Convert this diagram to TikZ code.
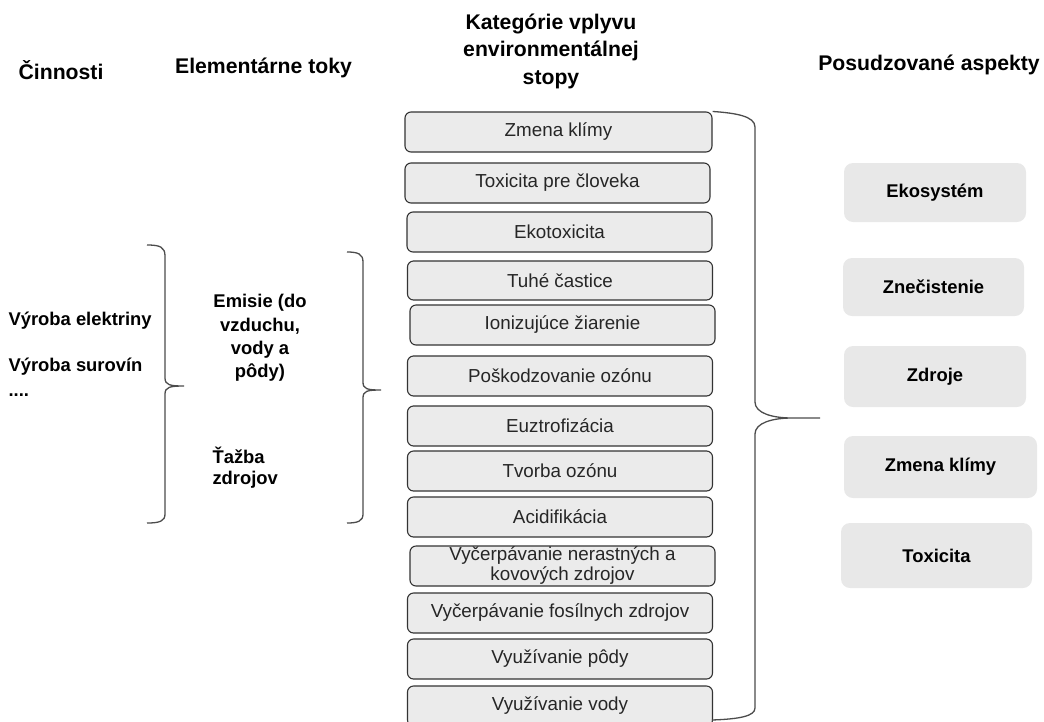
\documentclass[tikz,border=0pt]{standalone}
\usepackage{fontspec}
\setmainfont{Liberation Sans}

\begin{document}
\begin{tikzpicture}[x=1pt,y=-1pt,
    kat/.style={draw=black!80,line width=1.1pt,fill=black!8,rounded corners=6pt,
      minimum width=305pt,minimum height=40pt,inner sep=0pt,text=black!85,
      font=\fontsize{18.8}{21}\selectfont},
    asp/.style={fill=black!9,rounded corners=9pt,inner sep=0pt,
      font=\bfseries\fontsize{18.4}{22}\selectfont},
    hlava/.style={align=center,font=\bfseries\fontsize{21.2}{27.5}\selectfont},
    stitok/.style={font=\bfseries\fontsize{18.4}{23}\selectfont},
    zatvorka/.style={draw=black!70,line width=1.3pt}]
    \useasboundingbox (0,0) rectangle (1044,721);
    % headings
    \node[hlava] (h1) at (61,70) {Činnosti};
    \node[hlava] (h2) at (263.5,68) {Elementárne toky};
    \node[hlava] (h3) at (551,51) {Kategórie vplyvu\\environmentálnej\\stopy};
    \node[hlava] (h4) at (929,65) {Posudzované aspekty};
    % left column
    \node[stitok,anchor=west] (c1) at (5,321) {Výroba elektriny};
    \node[stitok,anchor=west] (c2) at (5,367) {Výroba surovín};
    \node[stitok,anchor=base west] (c3) at (5,396) {....};
    \draw[zatvorka] (147,245) .. controls (160,245) and (165,247) .. (165,256) -- (165,378)
        .. controls (165,385) and (170,386) .. (184,386)
        .. controls (170,386) and (165,387) .. (165,394) -- (165,514)
        .. controls (165,521) and (160,523) .. (147,523);
    % elementary flows
    \node[stitok,align=center,font=\bfseries\fontsize{18.4}{23.3}\selectfont] (t1) at (260,338) {Emisie (do\\vzduchu,\\vody a\\pôdy)};
    \node[stitok,align=left,anchor=west,font=\bfseries\fontsize{18.4}{21.5}\selectfont] (t2) at (209,467.5) {Ťažba\\zdrojov};
    \draw[zatvorka] (347,252) .. controls (358,252) and (363,254) .. (363,262) -- (363,382)
        .. controls (363,389) and (367,390) .. (381,390)
        .. controls (367,390) and (363,391) .. (363,398) -- (363,514)
        .. controls (363,521) and (358,523) .. (347,523);
    % impact categories
    \node[kat,minimum width=307pt] (k1) at (558.5,132) {Zmena klímy};
    \node[kat] (k2) at (557.5,183) {Toxicita pre človeka};
    \node[kat] (k3) at (559.5,232) {Ekotoxicita};
    \node[kat,minimum height=39pt] (k4) at (560,280.5) {Tuhé častice};
    \node[kat] (k5) at (562.5,325) {Ionizujúce žiarenie};
    \node[kat] (k6) at (560,376) {Poškodzovanie ozónu};
    \node[kat] (k7) at (560,426) {Euztrofizácia};
    \node[kat] (k8) at (560,471) {Tvorba ozónu};
    \node[kat] (k9) at (560,517) {Acidifikácia};
    \node[kat,align=center] (k10) at (562.5,566) {Vyčerpávanie nerastných a\\[-1pt]kovových zdrojov};
    \node[kat] (k11) at (560,613) {Vyčerpávanie fosílnych zdrojov};
    \node[kat] (k12) at (560,659) {Využívanie pôdy};
    \node[kat] (k13) at (560,706) {Využívanie vody};
    \draw[zatvorka] (k1.north east) .. controls (735,113) and (755,116) .. (755,127) -- (755,402)
        .. controls (755,413) and (772,418) .. (792,418) -- (820,418)
        (792,418) .. controls (772,418) and (755,423) .. (755,434) -- (755,708)
        .. controls (755,716) and (740,719) .. (712,720);
    % aspects
    \node[asp,minimum width=182pt,minimum height=59pt] (a1) at (935,192.5) {Ekosystém};
    \node[asp,minimum width=181pt,minimum height=58pt] (a2) at (933.5,287) {Znečistenie};
    \node[asp,minimum width=182pt,minimum height=61pt] (a3) at (935,376.5) {Zdroje};
    \node[asp,minimum width=193pt,minimum height=62pt] (a4) at (940.5,467) {Zmena klímy};
    \node[asp,minimum width=191pt,minimum height=65pt] (a5) at (936.5,555.5) {Toxicita};
\end{tikzpicture}
\end{document}
